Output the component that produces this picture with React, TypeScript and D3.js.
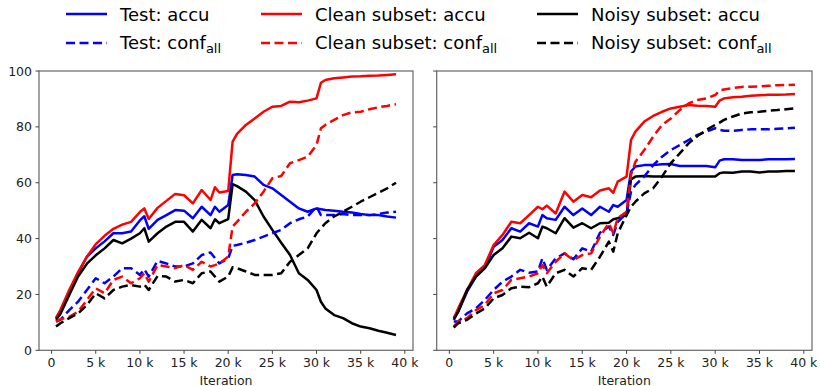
import React from "react";
import * as d3 from "d3";

// iterations in thousands
const iters = [0.5, 1, 2, 3, 4, 5, 6, 7, 8, 9, 10, 10.5, 11, 12, 13, 14, 15, 16, 17, 18, 18.5, 19, 20, 20.5, 21, 22, 23, 24, 25, 26, 27, 28, 29, 30, 30.5, 31, 32, 33, 34, 35, 36, 37, 38, 39];

// Left panel
const leftTestAccu = [11.5, 13.8, 21, 27.6, 33.5, 36.5, 39, 41.9, 41.9, 42.5, 46.5, 48, 43.5, 46.7, 48.4, 50.2, 50, 47.3, 51.4, 48.4, 51.4, 49.6, 52, 62.8, 63, 62.8, 62.2, 59.2, 58, 55.6, 53.2, 50.8, 49.6, 50.8, 50.5, 50.2, 50, 49.6, 49.3, 48.8, 48.4, 48.4, 47.9, 47.5];
const leftCleanAccu = [11.5, 14.5, 21.6, 28, 33.5, 38, 41, 43.5, 45, 46, 49.5, 50.8, 47, 51, 53.5, 56, 55.5, 52.6, 57.4, 53.8, 58.4, 56.5, 57, 74.7, 77.5, 80.7, 83, 85.4, 87.2, 87.5, 89, 88.8, 89.4, 90.2, 95.8, 96.8, 97.4, 97.7, 98, 98.1, 98.3, 98.4, 98.6, 98.8];
const leftNoisyAccu = [10.9, 13, 19.8, 26.4, 31, 34, 36.5, 39.5, 38.3, 40, 41.9, 43.7, 38.9, 41.9, 44.3, 46, 46, 42.5, 46.7, 43.7, 46.9, 45.5, 47, 59.5, 58.8, 56.8, 53.8, 47.9, 43.1, 38.5, 34.1, 27.6, 25.2, 21.6, 17.4, 15, 12.6, 11.5, 9.7, 8.5, 7.9, 7, 6.3, 5.5];
const leftTestConf = [10.3, 10.9, 14.4, 17.4, 21.6, 25.8, 24, 26.4, 29.4, 29.4, 27, 29, 26.4, 32, 31.1, 30, 30, 31.1, 34.1, 35, 33, 31.1, 32.9, 37.4, 37.7, 38.5, 39.5, 40.7, 41.9, 43.1, 45.5, 46.9, 47.9, 51.4, 48.4, 48.4, 48.4, 48.8, 48.4, 48.4, 48.4, 48.8, 49.3, 49.6];
const leftCleanConf = [10.3, 11.1, 12, 13.8, 18, 22.2, 20.4, 25.2, 26.4, 24, 25.8, 27.6, 24.6, 30.5, 30, 29.4, 30.5, 28.8, 31.7, 30, 30.5, 31.1, 33.5, 44.3, 46, 49.6, 52.6, 56.8, 61.6, 62.4, 67, 68.1, 69.3, 73.5, 79.5, 80.7, 82.5, 84.2, 85.2, 85.4, 86.3, 87, 87.5, 88.1];
const leftNoisyConf = [8.5, 9.7, 11.5, 13.2, 16.2, 20.4, 18.6, 21.6, 22.8, 23.4, 22.8, 23.5, 21.6, 26.6, 26.4, 24.6, 25.2, 24, 27.6, 28.2, 26.4, 24.6, 26.4, 29.7, 29.4, 28.2, 27, 27, 27, 27.6, 31.7, 34.1, 36.5, 41.9, 43.7, 45.5, 47.9, 49.6, 51.4, 53.2, 54.8, 56.4, 58, 60];

// Right panel
const rightTestAccu = [11.5, 13.8, 21, 26.4, 29.4, 37.1, 39.5, 43.7, 42.5, 45.5, 44.3, 48.4, 47.3, 46.7, 51.4, 48.4, 50.8, 48.4, 51.4, 49.6, 52, 51.4, 53.8, 64, 65.8, 66.3, 66.3, 66.6, 66.7, 66, 66, 66, 66, 65.5, 67.9, 68.4, 68.4, 68.1, 68.1, 68.1, 68.4, 68.4, 68.4, 68.5];
const rightCleanAccu = [11.5, 15, 21.6, 27.6, 30.5, 37.7, 41.3, 46, 45.5, 48.4, 51.4, 50.5, 51.8, 49, 56.8, 53.2, 55.6, 54.8, 57.2, 58, 56.4, 60.4, 62.2, 75.3, 78.3, 81.9, 83.9, 85.4, 86.6, 87.2, 87.8, 87.6, 87.5, 87.2, 89.4, 90.2, 90.6, 90.8, 91.1, 91.3, 91.5, 91.5, 91.6, 91.8];
const rightNoisyAccu = [10.9, 13.8, 21.6, 26.4, 29.4, 34.1, 36.5, 40.7, 40.1, 42.1, 40.1, 44.3, 43.7, 41.9, 47.3, 43.9, 45.5, 43.7, 45.5, 45.7, 46.9, 47.3, 48.4, 61.2, 62.2, 62.4, 62.2, 62.2, 62.2, 62.2, 62.2, 62.2, 62.2, 62.2, 63.4, 63.7, 63.6, 64, 64, 63.7, 64, 64, 64.2, 64.2];
const rightTestConf = [10.3, 10.3, 13.2, 15, 18, 21.6, 24.6, 26.4, 28.8, 27.8, 28.2, 32.9, 28.8, 32.9, 34.7, 32.6, 36.5, 35.3, 42.1, 44.3, 41.3, 46, 49, 56.8, 59.2, 62.2, 66.3, 69.3, 71.7, 73.5, 75.3, 77.1, 78.3, 79.5, 78.9, 78.6, 78.6, 78.9, 79.1, 79.1, 79.1, 79.3, 79.5, 79.7];
const rightCleanConf = [8.5, 10.3, 11.5, 14.4, 16.2, 20.4, 21.6, 25.2, 25.8, 26.4, 27.6, 30.5, 27.6, 31.7, 34.7, 32.3, 34.1, 34.7, 40.7, 45.5, 41.9, 47.3, 49.6, 62.8, 67.5, 71.7, 76.5, 80.7, 83, 86, 88.4, 89.6, 90.2, 91.4, 93, 93.4, 93.9, 94.3, 94.4, 94.5, 94.7, 94.9, 95, 95.1];
const rightNoisyConf = [8.1, 9.7, 10.9, 13.2, 15, 18.6, 19.8, 22.2, 22.8, 22.6, 24, 26.4, 22.8, 27.6, 28.8, 26.4, 29.4, 28.8, 33.5, 38.9, 35.3, 41.9, 48.4, 51.4, 53.2, 56.2, 58, 62.2, 67, 70.5, 74.1, 76.7, 78.9, 80.7, 81.5, 82.5, 83.7, 84.8, 85.2, 85.4, 85.8, 86, 86.3, 86.6];

const xTicks = [0, 5, 10, 15, 20, 25, 30, 35, 40];
const yTicks = [0, 20, 40, 60, 80, 100];

const seriesNames = ["Test", "Clean subset", "Noisy subset"];
const seriesColors = ["#0000ff", "#ff0000", "#000000"];

const FONT = "DejaVu Sans, sans-serif";
const LW = 2.5;
const DASH = "9,4.5";

type Panel = { x0: number; x1: number; showY: boolean; accu: number[][]; conf: number[][] };

const panels: Panel[] = [
  { x0: 39, x1: 413, showY: true, accu: [leftTestAccu, leftCleanAccu, leftNoisyAccu], conf: [leftTestConf, leftCleanConf, leftNoisyConf] },
  { x0: 436.7, x1: 812, showY: false, accu: [rightTestAccu, rightCleanAccu, rightNoisyAccu], conf: [rightTestConf, rightCleanConf, rightNoisyConf] },
];

const TOP = 71;
const BOTTOM = 350.3;

function PanelView({ p }: { p: Panel }) {
  const x = d3.scaleLinear().domain([-1.425, 40.925]).range([p.x0, p.x1]);
  const y = d3.scaleLinear().domain([0, 100]).range([BOTTOM, TOP]);
  const line = (vals: number[]) =>
    d3.line<number>().x((_, i) => x(iters[i])).y((v) => y(v))(vals) || "";
  const order = [0, 1, 2];
  return (
    <g>
      <defs>
        <clipPath id={`clip${p.x0}`}>
          <rect x={p.x0} y={TOP} width={p.x1 - p.x0} height={BOTTOM - TOP} />
        </clipPath>
      </defs>
      <g clipPath={`url(#clip${p.x0})`} fill="none" strokeLinejoin="round">
        {order.map((i) => (
          <path key={"a" + i} d={line(p.accu[i])} stroke={seriesColors[i]} strokeWidth={LW} />
        ))}
        {order.map((i) => (
          <path key={"c" + i} d={line(p.conf[i])} stroke={seriesColors[i]} strokeWidth={LW} strokeDasharray={DASH} />
        ))}
      </g>
      <rect x={p.x0} y={TOP} width={p.x1 - p.x0} height={BOTTOM - TOP} fill="none" stroke="#666" strokeWidth={1.2} />
      {xTicks.map((t) => (
        <g key={"x" + t}>
          <line x1={x(t)} x2={x(t)} y1={BOTTOM} y2={BOTTOM + 3.5} stroke="#444" strokeWidth={1} />
          <text x={x(t)} y={366.5} textAnchor="middle" fontSize={12.5} fontFamily={FONT} fill="#222">
            {t === 0 ? "0" : `${t} k`}
          </text>
        </g>
      ))}
      {yTicks.map((t) => (
        <g key={"y" + t}>
          <line x1={p.x0 - 3.5} x2={p.x0} y1={y(t)} y2={y(t)} stroke="#444" strokeWidth={1} />
          {p.showY && (
            <text x={p.x0 - 7} y={y(t) + 4.5} textAnchor="end" fontSize={12.5} fontFamily={FONT} fill="#222">
              {t}
            </text>
          )}
        </g>
      ))}
      <text x={(p.x0 + p.x1) / 2} y={384.5} textAnchor="middle" fontSize={12.5} fontFamily={FONT} fill="#222">
        Iteration
      </text>
    </g>
  );
}

const legendCols = [66, 261, 537];
const legendRows = [14, 43];

export default function App() {
  return (
    <svg width={820} height={386} style={{ position: "absolute", left: 0, top: 0, background: "#fff" }}>
      <rect width={820} height={386} fill="#fff" />
      {panels.map((p, i) => (
        <PanelView key={i} p={p} />
      ))}
      {seriesNames.map((name, i) => (
        <g key={name}>
          <line x1={legendCols[i]} x2={legendCols[i] + 41} y1={legendRows[0]} y2={legendRows[0]} stroke={seriesColors[i]} strokeWidth={LW} />
          <text x={legendCols[i] + 54} y={legendRows[0] + 6.8} fontSize={18} fontFamily={FONT} fill="#000">
            {name}: accu
          </text>
          <line x1={legendCols[i]} x2={legendCols[i] + 41} y1={legendRows[1]} y2={legendRows[1]} stroke={seriesColors[i]} strokeWidth={LW} strokeDasharray={DASH} />
          <text x={legendCols[i] + 54} y={legendRows[1] + 5.5} fontSize={18} fontFamily={FONT} fill="#000">
            {name}: conf
            <tspan fontSize={13} dy={4}>all</tspan>
          </text>
        </g>
      ))}
    </svg>
  );
}
